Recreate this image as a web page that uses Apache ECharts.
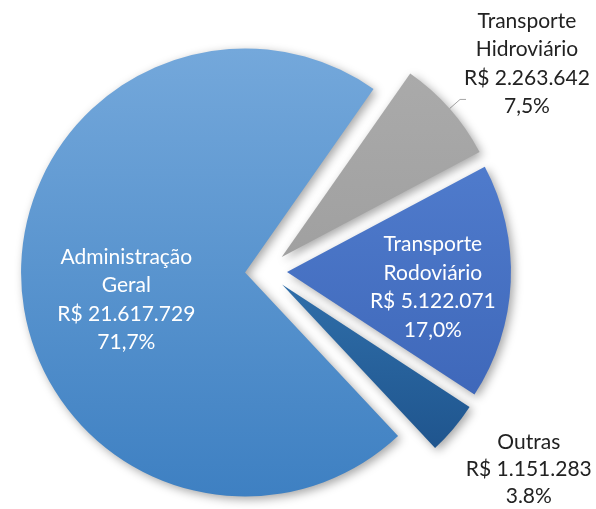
<!DOCTYPE html>
<html>
<head>
<meta charset="utf-8">
<script src="https://cdn.jsdelivr.net/npm/echarts@6/dist/echarts.min.js"></script>
<style>
  html, body { margin: 0; padding: 0; background: #ffffff; }
  #chart { width: 596px; height: 509px; }
</style>
</head>
<body>
<div id="chart"></div>
<script>
// Budget split by area (R$), listed clockwise from the upper-right slice
const categories = ['Transporte\nHidroviário', 'Transporte\nRodoviário', 'Outras', 'Administração\nGeral'];
const values = [2263642, 5122071, 1151283, 21617729];
const percentLabels = ['7,5%', '17,0%', '3.8%', '71,7%'];
const exploded = [true, true, true, true];

// Slice fills (top → bottom gradient stops)
const fills = [
  ['#aaaaaa', '#a0a0a0'],
  ['#4f7bcc', '#3f68ba'],
  ['#2f6ea9', '#1f558e'],
  ['#74a8db', '#3e80c2']
];

// Label styling per slice
const labelStyles = [
  { position: 'outside', color: '#222222', padding: [0, 0, 71, 0], distanceToLabelLine: -2,
    line: { show: true, length: 14, length2: 6 } },
  { position: 'inside', color: '#ffffff', padding: [20, 0, 0, 62] },
  { position: 'outside', color: '#222222', padding: [56, 0, 0, 0], distanceToLabelLine: -3,
    line: { show: false, length: 20, length2: 0 } },
  { position: 'inside', color: '#ffffff', padding: [38, 8, 0, 0] }
];

function formatBRL(v) {
  return 'R$ ' + String(v).replace(/\B(?=(\d{3})+(?!\d))/g, '.');
}

const FONT = 'Lato, "Noto Sans", sans-serif';

const data = categories.map(function (name, i) {
  const ls = labelStyles[i];
  const lines = name.split('\n').concat([formatBRL(values[i]), percentLabels[i]]);
  const item = {
    name: name,
    value: values[i],
    selected: exploded[i],
    itemStyle: {
      color: new echarts.graphic.LinearGradient(0, 0, 0, 1, [
        { offset: 0, color: fills[i][0] },
        { offset: 1, color: fills[i][1] }
      ])
    },
    label: {
      show: true,
      position: ls.position,
      padding: ls.padding,
      distanceToLabelLine: ls.distanceToLabelLine,
      formatter: lines.map(function (t) { return '{c|' + t + '}'; }).join('\n'),
      rich: {
        c: {
          align: 'center',
          color: ls.color,
          fontFamily: FONT,
          fontSize: 21,
          lineHeight: i === 2 ? 27 : 28.5
        }
      }
    }
  };
  if (ls.line) {
    item.labelLine = {
      show: ls.line.show,
      length: ls.line.length,
      length2: ls.line.length2,
      smooth: false,
      lineStyle: { color: '#a6a6a6', width: 1 }
    };
  }
  return item;
});

const chart = echarts.init(document.getElementById('chart'), null, { renderer: 'canvas' });
chart.setOption({
  backgroundColor: '#ffffff',
  animation: false,
  series: [{
    type: 'pie',
    center: [266, 271],
    radius: 224,
    startAngle: 55,
    clockwise: true,
    avoidLabelOverlap: false,
    selectedMode: 'multiple',
    selectedOffset: 21,
    silent: true,
    itemStyle: {
      borderWidth: 0,
      shadowBlur: 10,
      shadowOffsetX: 3,
      shadowOffsetY: 3,
      shadowColor: 'rgba(0,0,0,0.35)'
    },
    labelLine: { show: false },
    data: data
  }]
});
</script>
</body>
</html>
